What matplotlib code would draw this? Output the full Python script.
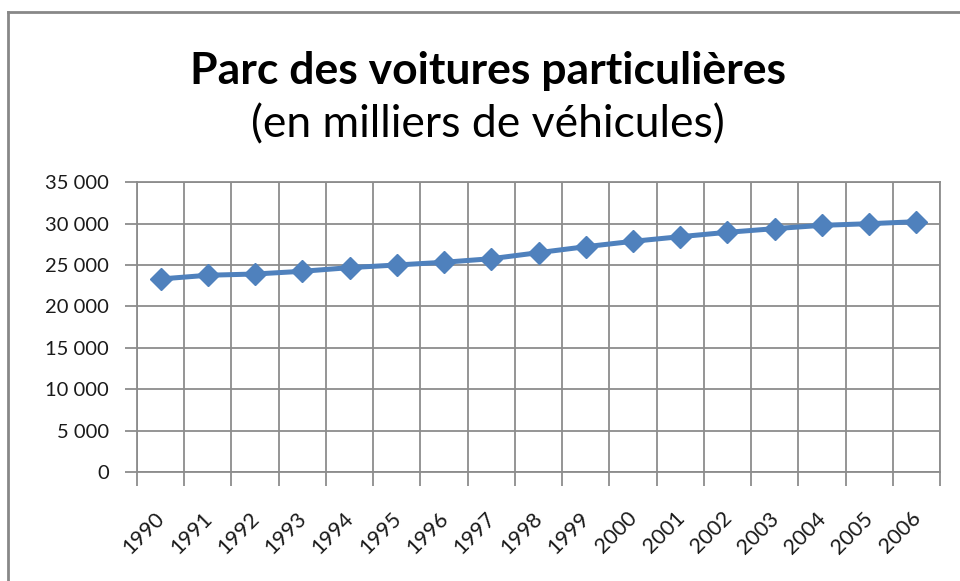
import matplotlib
matplotlib.use("Agg")
import matplotlib.pyplot as plt
from matplotlib.lines import Line2D
from matplotlib.transforms import ScaledTranslation
import numpy as np

years = ['1990', '1991', '1992', '1993', '1994', '1995', '1996', '1997', '1998',
         '1999', '2000', '2001', '2002', '2003', '2004', '2005', '2006']
values = [23320, 23770, 23920, 24250, 24690, 25010, 25340, 25770, 26500,
          27220, 27870, 28430, 28960, 29400, 29800, 30000, 30240]
yticks = [0, 5000, 10000, 15000, 20000, 25000, 30000, 35000]
ytick_labels = ['0', '5 000', '10 000', '15 000', '20 000', '25 000', '30 000', '35 000']
title1 = "Parc des voitures particulières"
title2 = "(en milliers de véhicules)"

plt.rcParams['font.family'] = ['Lato', 'DejaVu Sans']

W, H = 960, 581
fig = plt.figure(figsize=(W / 100, H / 100), dpi=100)
fig.patch.set_facecolor('white')

ax = fig.add_axes([137 / W, 1 - 472 / H, (940 - 137) / W, (472 - 182.3) / H])
grid_c = '#8c8c8c'

x = np.arange(len(years)) + 0.5
ax.plot(x, values, color='#4F81BD', lw=3.6, marker='D', markersize=11,
        markeredgecolor='#4F81BD', markerfacecolor='#4F81BD', zorder=5,
        solid_joinstyle='round')

ax.set_xlim(0, len(years))
ax.set_ylim(0, 35000)
ax.set_xticks(np.arange(len(years) + 1))
ax.set_xticklabels([])
ax.set_xticks(x, minor=True)
ax.set_xticklabels(years, minor=True, rotation=45, ha='right', va='top',
                   rotation_mode='anchor', fontsize=15.5, color='#1a1a1a')
ax.tick_params(axis='x', which='minor', length=0, pad=26)
ax.tick_params(axis='x', which='major', length=10, width=1.3, color=grid_c, direction='out')
off = ScaledTranslation(-6 / 100, 0, fig.dpi_scale_trans)
for lbl in ax.get_xticklabels(minor=True):
    lbl.set_transform(lbl.get_transform() + off)
ax.set_yticks(yticks)
ax.set_yticklabels(ytick_labels, fontsize=14.5, color='#1a1a1a')
ax.tick_params(axis='y', length=9, width=1.3, color=grid_c, direction='out', pad=11)

ax.grid(True, which='major', color=grid_c, lw=1.3)
ax.set_axisbelow(True)
for s in ax.spines.values():
    s.set_color(grid_c)
    s.set_linewidth(1.3)

fig.text(488 / W, 1 - 71 / H, title1, ha='center', va='center', fontsize=32,
         fontweight='bold', color='black')
fig.text(488 / W, 1 - 125 / H, title2, ha='center', va='center', fontsize=32,
         color='black')

border_c = '#888888'
fig.add_artist(Line2D([8 / W, 1], [1 - 12 / H, 1 - 12 / H], color=border_c, lw=2,
                      transform=fig.transFigure))
fig.add_artist(Line2D([8 / W, 8 / W], [0, 1 - 12 / H], color=border_c, lw=2,
                      transform=fig.transFigure))

fig.savefig('out.png', dpi=100, facecolor='white')
